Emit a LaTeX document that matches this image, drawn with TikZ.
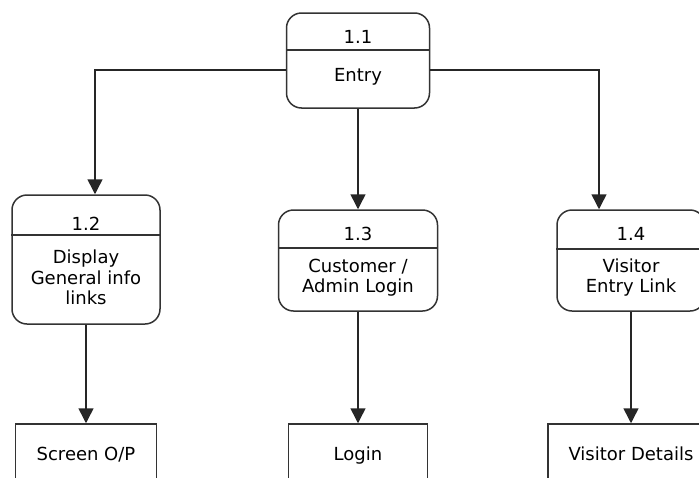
\documentclass[tikz,border=0pt]{standalone}
\usepackage{fontspec}
\setmainfont{DejaVu Sans}
\usepackage{tikz}
\usetikzlibrary{arrows.meta}

\tikzset{
  proc/.style={draw=black!80, line width=1.5pt, rounded corners=15pt, inner sep=0pt},
  outbox/.style={draw=black!80, line width=1.5pt, inner sep=0pt, text height=13pt, text depth=4pt, font=\fontsize{18}{20.5}\selectfont},
  flow/.style={draw=black!85, line width=1.5pt, -{Triangle[width=15pt,length=15pt]}},
  txt/.style={inner sep=0pt, font=\fontsize{18}{20.5}\selectfont, align=center}
}

\begin{document}
\begin{tikzpicture}[x=1pt,y=-1pt]
\useasboundingbox (0,0) rectangle (699,477);
\clip (0,0) rectangle (699,477);

% processes
\node[proc, minimum width=143pt, minimum height=95pt] (entry) at (358,60.5) {};
\node[proc, minimum width=148pt, minimum height=129pt] (display) at (86,259.5) {};
\node[proc, minimum width=159pt, minimum height=101pt] (custlogin) at (358,260.5) {};
\node[proc, minimum width=148pt, minimum height=101pt] (visitor) at (631,260.5) {};
\draw[black!80, line width=1.5pt] (entry.west |- 0,50) -- (entry.east |- 0,50);
\draw[black!80, line width=1.5pt] (display.west |- 0,235) -- (display.east |- 0,235);
\draw[black!80, line width=1.5pt] (custlogin.west |- 0,248) -- (custlogin.east |- 0,248);
\draw[black!80, line width=1.5pt] (visitor.west |- 0,249) -- (visitor.east |- 0,249);

\node[txt, anchor=base] (entryno) at (358,43) {1.1};
\node[txt, anchor=base] (entrytx) at (358,81) {Entry};
\node[txt, anchor=base] (displayno) at (86,230) {1.2};
\node[txt] (displaytx) at (86,277.5) {Display\\General info\\links};
\node[txt, anchor=base] (custloginno) at (358,240) {1.3};
\node[txt] (custlogintx) at (358,277.5) {Customer /\\Admin Login};
\node[txt, anchor=base] (visitorno) at (631,240) {1.4};
\node[txt] (visitortx) at (631,277.5) {Visitor\\Entry Link};

% outputs
\node[outbox, minimum width=141pt, minimum height=63pt] (screenop) at (86,455.5) {Screen O/P};
\node[outbox, minimum width=139pt, minimum height=63pt] (loginout) at (358,455.5) {Login};
\node[outbox, minimum width=166pt, minimum height=63pt] (details) at (631,455.5) {Visitor Details};

% flows
\draw[flow] ([yshift=-9.5pt]entry.west) -| ([xshift=9pt]display.north);
\draw[flow] (entry) -- (custlogin);
\draw[flow] ([yshift=-9.5pt]entry.east) -| ([xshift=-32pt]visitor.north);
\draw[flow] (display) -- (screenop);
\draw[flow] (custlogin) -- (loginout);
\draw[flow] (visitor) -- (details);
\end{tikzpicture}
\end{document}
